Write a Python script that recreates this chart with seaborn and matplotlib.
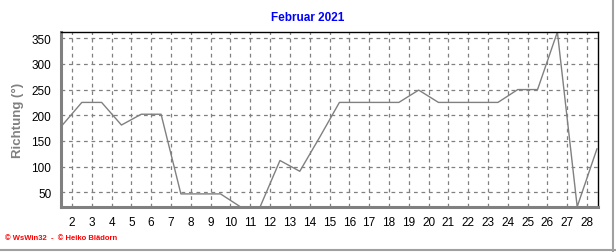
import matplotlib
matplotlib.use("Agg")
import matplotlib.pyplot as plt
import seaborn as sns
import pandas as pd
import numpy as np
from matplotlib.ticker import MultipleLocator
from matplotlib.lines import Line2D

# Data: wind direction (degrees), one value per day, plotted at mid-day
days = [1.5, 2.5, 3.5, 4.5, 5.5, 6.5, 7.5, 8.5, 9.5, 10.5, 11.5, 12.5, 13.5, 14.5,
        15.5, 16.5, 17.5, 18.5, 19.5, 20.5, 21.5, 22.5, 23.5, 24.5, 25.5, 26.5, 27.5, 28.5]
direction = [180, 225, 225, 181, 202, 202, 47, 47, 47, 22, 22, 112, 91, 157,
             225, 225, 225, 225, 249, 225, 225, 225, 225, 250, 250, 362, 22, 135]
xticks = list(range(2, 29))
yticks = [50, 100, 150, 200, 250, 300, 350]
title = "Februar 2021"
ylabel = "Richtung (°)"
footer = "© WsWin32  -  © Heiko Blädorn"

df = pd.DataFrame({"day": days, "dir": direction})

sns.set_style("white")
plt.rcParams['font.family'] = ['Liberation Sans', 'DejaVu Sans']

fig = plt.figure(figsize=(6.16, 2.53), dpi=100)
ax = fig.add_axes([61/616, 1-207.5/253, (598-61)/616, (207.5-33)/253])

sns.lineplot(data=df, x="day", y="dir", ax=ax, color="#808080", linewidth=1.0)

ax.set_xlim(1.45, 28.55)
ax.set_ylim(22.5, 362)
ax.set_xticks(xticks)
ax.set_xticklabels([str(t) for t in xticks])
ax.set_yticks(yticks)
ax.xaxis.set_minor_locator(MultipleLocator(1/6))
ax.yaxis.set_minor_locator(MultipleLocator(10))
ax.grid(True, which="major", linestyle=(0, (3, 3)), color="#808080", linewidth=0.9)
ax.set_xlabel("")
ax.set_ylabel(ylabel, color="#808080", fontsize=9.5, fontweight="bold", labelpad=5)

for s in ["left", "bottom"]:
    ax.spines[s].set_color("#808080")
    ax.spines[s].set_linewidth(2.2)
for s in ["top", "right"]:
    ax.spines[s].set_color("black")
    ax.spines[s].set_linewidth(1.0)

ax.tick_params(axis="both", which="major", direction="out", length=4, width=1,
               color="#808080", labelsize=8.5, labelcolor="black", pad=3)
ax.tick_params(axis="both", which="minor", direction="out", length=2, width=0.8,
               color="#808080")

fig.text(0.5, 1-18/253, title, ha="center", va="center", color="#0000ff",
         fontsize=8.5, fontweight="bold")
fig.text(5/616, 1-239/253, footer, ha="left", va="center", color="#ff0000",
         fontsize=5.5, fontweight="bold")

# image frame (right and bottom gray border)
fig.add_artist(Line2D([613/616, 613/616], [0, 1], transform=fig.transFigure,
                      color="#a0a0a0", linewidth=1.5))
fig.add_artist(Line2D([0, 1], [2/253, 2/253], transform=fig.transFigure,
                      color="#a0a0a0", linewidth=1.5))

fig.savefig("out.png", dpi=100)
